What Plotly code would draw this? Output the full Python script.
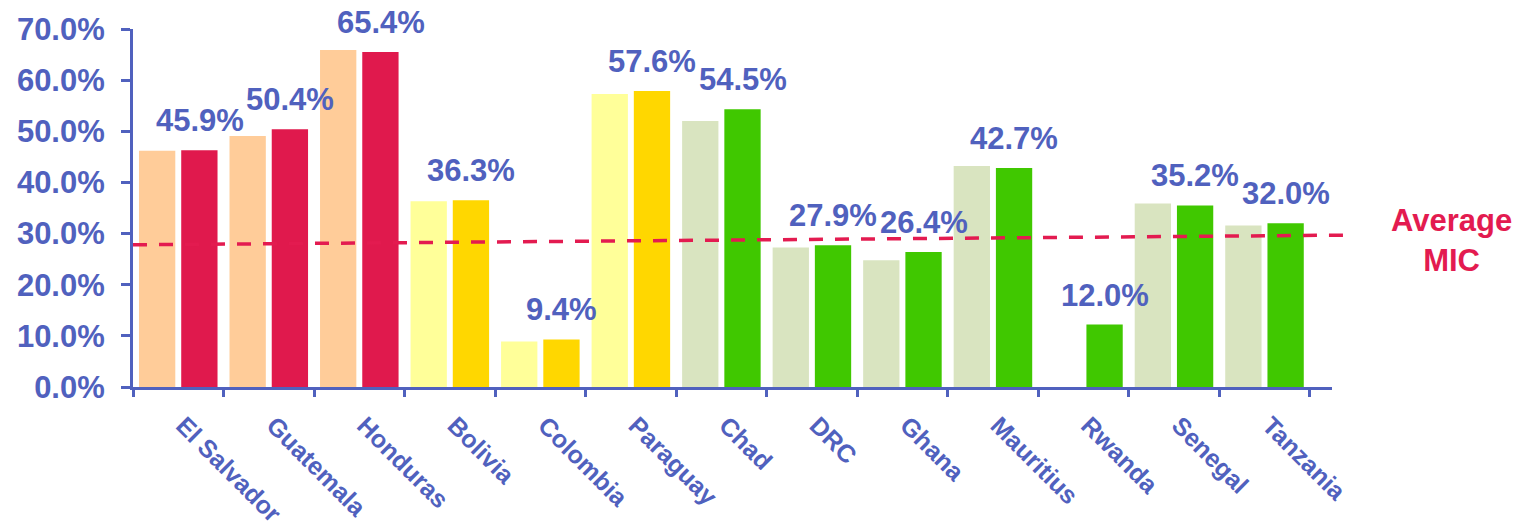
import plotly.graph_objects as go

countries = ["El Salvador", "Guatemala", "Honduras", "Bolivia", "Colombia", "Paraguay",
             "Chad", "DRC", "Ghana", "Mauritius", "Rwanda", "Senegal", "Tanzania"]
light_values = [46.2, 49.1, 65.9, 36.3, 8.9, 57.3, 52.0, 27.3, 24.8, 43.2, None, 35.9, 31.6]
dark_values = [46.3, 50.4, 65.5, 36.5, 9.3, 57.9, 54.3, 27.7, 26.4, 42.8, 12.2, 35.5, 32.0]
label_texts = ["45.9%", "50.4%", "65.4%", "36.3%", "9.4%", "57.6%", "54.5%",
               "27.9%", "26.4%", "42.7%", "12.0%", "35.2%", "32.0%"]
avg_mic = [27.8, 29.7]  # start, end of the trend line
y_ticks = [0, 10, 20, 30, 40, 50, 60, 70]

light_colors = ["#FFCC99"] * 3 + ["#FFFF99"] * 3 + ["#D9E4C0"] * 7
dark_colors = ["#E0194D"] * 3 + ["#FFD700"] * 3 + ["#40C800"] * 7

BLUE = "#5061BE"
RED = "#E31B50"
FONT = "Liberation Sans, Arial, sans-serif"

fig = go.Figure()
fig.add_trace(go.Bar(x=countries, y=light_values, marker=dict(color=light_colors, line_width=0),
                     showlegend=False, hoverinfo="skip"))
fig.add_trace(go.Bar(x=countries, y=dark_values, marker=dict(color=dark_colors, line_width=0),
                     showlegend=False, hoverinfo="skip"))

for c, v, t in zip(countries, dark_values, label_texts):
    fig.add_annotation(x=c, y=v, text=t, showarrow=False, xshift=21.5, yshift=10,
                       yanchor="bottom", xanchor="center",
                       font=dict(family=FONT, size=31, color=BLUE, weight="bold"))

fig.add_shape(type="line", xref="paper", yref="y", x0=0, x1=1.0133,
              y0=avg_mic[0], y1=avg_mic[1], layer="above",
              line=dict(color=RED, width=3.5, dash="14px,12px"))

fig.add_annotation(xref="paper", yref="y", x=1.1, y=28.7, text="Average<br>MIC",
                   showarrow=False, xanchor="center", yanchor="middle",
                   font=dict(family=FONT, size=31, color=RED, weight="bold"))

fig.update_layout(
    width=1519, height=532,
    margin=dict(l=133, r=187, t=29, b=145, autoexpand=False),
    plot_bgcolor="white", paper_bgcolor="white",
    barmode="group", bargap=0.067, bargroupgap=0.14,
    font=dict(family=FONT, color=BLUE),
)
fig.update_xaxes(showline=True, linewidth=3, linecolor=BLUE, showgrid=False, automargin=False,
                 ticks="outside", tickson="boundaries", ticklen=7, tickwidth=2.5, tickcolor=BLUE,
                 ticklabelstandoff=11, ticklabelshift=5,
                 tickangle=45, tickfont=dict(family=FONT, size=25, color=BLUE, weight="bold"))
fig.update_yaxes(range=[0, 70], tickvals=y_ticks, ticktext=[f"{v:.1f}%" for v in y_ticks],
                 showline=True, linewidth=3, linecolor=BLUE, showgrid=False, zeroline=False,
                 automargin=False,
                 ticks="outside", ticklen=9, tickwidth=2.5, tickcolor=BLUE, ticklabelstandoff=10,
                 tickfont=dict(family=FONT, size=31, color=BLUE, weight="bold"))

fig.write_html("out.html", config={"displayModeBar": False},
               post_script="document.body.style.margin='0';document.body.style.overflow='hidden';")
